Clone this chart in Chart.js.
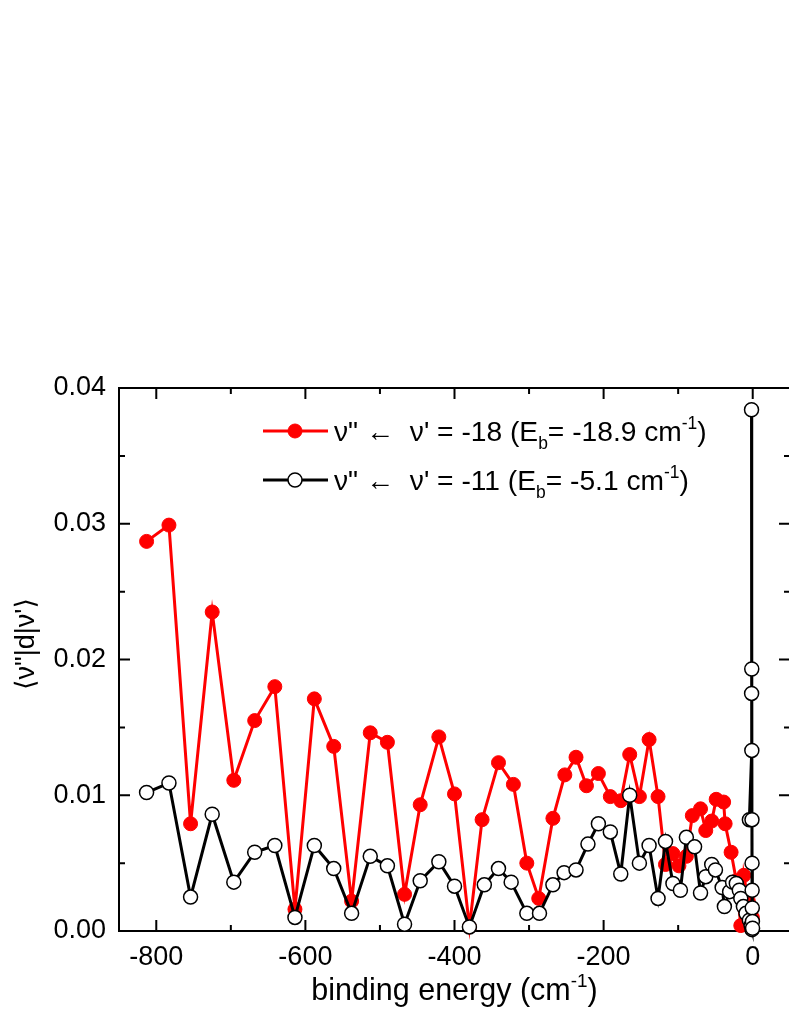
<!DOCTYPE html>
<html>
<head>
<meta charset="utf-8">
<script src="https://cdn.jsdelivr.net/npm/chart.js@4.4.1/dist/chart.umd.min.js"></script>
<style>
html,body{margin:0;padding:0;background:#fff;overflow:hidden;width:789px;height:1021px;}
canvas{position:absolute;left:0;top:0;}
</style>
</head>
<body>
<canvas id="c" width="800" height="1021"></canvas>
<script>
// ---- data ----
const xMajorTicks = [-800, -600, -400, -200, 0];
const xMinorTicks = [-700, -500, -300, -100];
const yMajorTicks = [0, 0.01, 0.02, 0.03, 0.04];
const yMinorTicks = [0.005, 0.015, 0.025, 0.035];

const redLabel = ['\u03BD" \u2190  \u03BD\' = -18 (E', 'b', '= -18.9 cm', '-1', ')'];
const blackLabel = ['\u03BD" \u2190  \u03BD\' = -11 (E', 'b', '= -5.1 cm', '-1', ')'];

const redX = [-813, -783, -754, -725, -696, -668, -641, -614, -588, -562, -538, -513, -490, -467, -446, -421, -400, -380, -363, -341, -321, -303, -287, -268, -252, -237, -223, -207, -191, -177, -165, -152, -139, -127, -117, -107, -99, -89, -81, -70, -63, -55, -49, -39, -37, -29, -22, -16, -12, -6, -0.5];
const redY = [0.0287, 0.0299, 0.0079, 0.0235, 0.0111, 0.0155, 0.0180, 0.0016, 0.0171, 0.0136, 0.0022, 0.0146, 0.0139, 0.0027, 0.0093, 0.0143, 0.0101, 0.0003, 0.0082, 0.0124, 0.0108, 0.0050, 0.0024, 0.0083, 0.0115, 0.0128, 0.0107, 0.0116, 0.0099, 0.0096, 0.0130, 0.0099, 0.0141, 0.0099, 0.0049, 0.0057, 0.0048, 0.0055, 0.0085, 0.0090, 0.0074, 0.0081, 0.0097, 0.0095, 0.0079, 0.0058, 0.0037, 0.0004, 0.0041, 0.0022, 0.0010];

const blackX = [-813, -783, -754, -725, -696, -668, -641, -614, -588, -562, -538, -513, -490, -467, -446, -421, -400, -380, -360, -341, -324, -303, -286, -268, -253, -237, -221, -207, -191, -177, -165, -152, -139, -127, -117, -107, -97, -89, -78, -70, -63, -55, -50, -41, -38, -31, -27, -22, -18, -16, -12.5, -9, -4.5, -2.2, -0.9, -1.6, -1.3, -1.5, -1.2, -4.5, -1.0, -0.9, -0.8, -0.6, -0.4, -0.2];
const blackY = [0.0102, 0.0109, 0.0025, 0.0086, 0.0036, 0.0058, 0.0063, 0.0010, 0.0063, 0.0046, 0.0013, 0.0055, 0.0048, 0.0005, 0.0037, 0.0051, 0.0033, 0.0003, 0.0034, 0.0046, 0.0036, 0.0013, 0.0013, 0.0034, 0.0043, 0.0045, 0.0064, 0.0079, 0.0073, 0.0042, 0.0100, 0.0050, 0.0063, 0.0024, 0.0066, 0.0035, 0.0030, 0.0069, 0.0062, 0.0028, 0.0040, 0.0049, 0.0045, 0.0032, 0.0018, 0.0029, 0.0036, 0.0035, 0.0030, 0.0024, 0.0018, 0.0013, 0.0008, 0.0004, 0.0001, 0.0384, 0.0193, 0.0175, 0.0133, 0.0082, 0.0082, 0.0050, 0.0030, 0.0017, 0.0007, 0.0002];

const xTitle = ['binding energy (cm', '-1', ')'];
const yTitle = '\u27E8\u03BD"|d|\u03BD\'\u27E9';

const FONT = '"Liberation Sans", Arial, "DejaVu Sans", sans-serif';

function pts(xs, ys) { return xs.map((x, i) => ({x: x, y: ys[i]})); }

function drawRich(ctx, parts, x, y, size) {
  const specs = [
    {s: size, dy: 0}, {s: size * 0.62, dy: size * 0.28},
    {s: size, dy: 0}, {s: size * 0.62, dy: -size * 0.42}, {s: size, dy: 0}
  ];
  ctx.textBaseline = 'alphabetic';
  ctx.textAlign = 'left';
  let cx = x;
  parts.forEach((t, i) => {
    const sp = specs[i];
    ctx.font = sp.s + 'px ' + FONT;
    ctx.fillText(t, cx, y + sp.dy);
    cx += ctx.measureText(t).width;
  });
  return cx - x;
}
function richWidth(ctx, parts, size) {
  const sizes = [size, size * 0.62, size, size * 0.62, size];
  let w = 0;
  parts.forEach((t, i) => { ctx.font = sizes[i] + 'px ' + FONT; w += ctx.measureText(t).width; });
  return w;
}

const framePlugin = {
  id: 'frame',
  beforeDatasetsDraw(chart) {
    const {ctx, chartArea: a, scales: {x, y}} = chart;
    ctx.save();
    ctx.strokeStyle = '#000';
    ctx.lineWidth = 2;
    ctx.strokeRect(a.left, a.top, a.right - a.left, a.bottom - a.top);
    const maj = 11, mn = 6;
    ctx.beginPath();
    xMajorTicks.forEach(v => { const p = x.getPixelForValue(v);
      ctx.moveTo(p, a.bottom); ctx.lineTo(p, a.bottom - maj);
      ctx.moveTo(p, a.top); ctx.lineTo(p, a.top + maj); });
    xMinorTicks.forEach(v => { const p = x.getPixelForValue(v);
      ctx.moveTo(p, a.bottom); ctx.lineTo(p, a.bottom - mn);
      ctx.moveTo(p, a.top); ctx.lineTo(p, a.top + mn); });
    yMajorTicks.forEach(v => { const p = y.getPixelForValue(v);
      ctx.moveTo(a.left, p); ctx.lineTo(a.left + maj, p);
      ctx.moveTo(a.right, p); ctx.lineTo(a.right - maj, p); });
    yMinorTicks.forEach(v => { const p = y.getPixelForValue(v);
      ctx.moveTo(a.left, p); ctx.lineTo(a.left + mn, p);
      ctx.moveTo(a.right, p); ctx.lineTo(a.right - mn, p); });
    ctx.stroke();
    ctx.restore();
  },
  afterDraw(chart) {
    const {ctx, chartArea: a} = chart;
    ctx.save();
    ctx.fillStyle = '#000';
    const xs = 30.5;
    const parts = ['', '', xTitle[0], xTitle[1], xTitle[2]];
    const w = richWidth(ctx, parts, xs);
    const cx = (a.left + a.right) / 2;
    drawRich(ctx, parts, cx - w / 2, 1000, xs);
    ctx.translate(34, 644);
    ctx.rotate(-Math.PI / 2);
    ctx.font = '27px ' + FONT;
    ctx.textAlign = 'center';
    ctx.textBaseline = 'alphabetic';
    ctx.fillText(yTitle, 0, 0);
    ctx.restore();

    ctx.save();
    const ds = chart.data.datasets;
    const rows = [{d: ds[0], parts: redLabel, y: 431}, {d: ds[1], parts: blackLabel, y: 480}];
    rows.forEach(r => {
      ctx.strokeStyle = r.d.borderColor;
      ctx.lineWidth = r.d.borderWidth;
      ctx.beginPath(); ctx.moveTo(263, r.y); ctx.lineTo(328, r.y); ctx.stroke();
      ctx.beginPath(); ctx.arc(295, r.y, r.d.pointRadius, 0, Math.PI * 2);
      ctx.fillStyle = r.d.pointBackgroundColor; ctx.fill();
      ctx.lineWidth = r.d.pointBorderWidth; ctx.strokeStyle = r.d.pointBorderColor; ctx.stroke();
      ctx.fillStyle = '#000';
      drawRich(ctx, r.parts, 334, r.y + 10, 28.2);
    });
    ctx.restore();
  }
};

new Chart(document.getElementById('c'), {
  type: 'scatter',
  data: {
    datasets: [
      {
        label: 'red', data: pts(redX, redY), showLine: true,
        borderColor: '#ff0000', borderWidth: 3,
        pointRadius: 7, pointBackgroundColor: '#ff0000', pointBorderColor: '#ff0000', pointBorderWidth: 1,
        order: 2, clip: false
      },
      {
        label: 'black', data: pts(blackX, blackY), showLine: true,
        borderColor: '#000000', borderWidth: 3,
        pointRadius: 7, pointBackgroundColor: '#ffffff', pointBorderColor: '#000000', pointBorderWidth: 1.5,
        order: 1, clip: false
      }
    ]
  },
  options: {
    responsive: false, animation: false, devicePixelRatio: 1,
    layout: {padding: {top: 388, right: 10, bottom: 0, left: 0}},
    plugins: {legend: {display: false}, tooltip: {enabled: false}},
    scales: {
      x: {
        type: 'linear', min: -850, max: 50,
        grid: {display: false, drawTicks: false}, border: {display: false},
        afterBuildTicks: s => { s.ticks = xMajorTicks.map(v => ({value: v})); },
        afterFit: s => { s.height = 90; },
        ticks: {color: '#000', font: {family: FONT, size: 27}, padding: 10, maxRotation: 0,
          callback: v => String(v)}
      },
      y: {
        type: 'linear', min: 0, max: 0.04,
        grid: {display: false, drawTicks: false}, border: {display: false},
        afterBuildTicks: s => { s.ticks = yMajorTicks.map(v => ({value: v})); },
        afterFit: s => { s.width = 119; },
        ticks: {color: '#000', font: {family: FONT, size: 27}, padding: 13,
          callback: v => v.toFixed(2)}
      }
    }
  },
  plugins: [framePlugin]
});
</script>
</body>
</html>
